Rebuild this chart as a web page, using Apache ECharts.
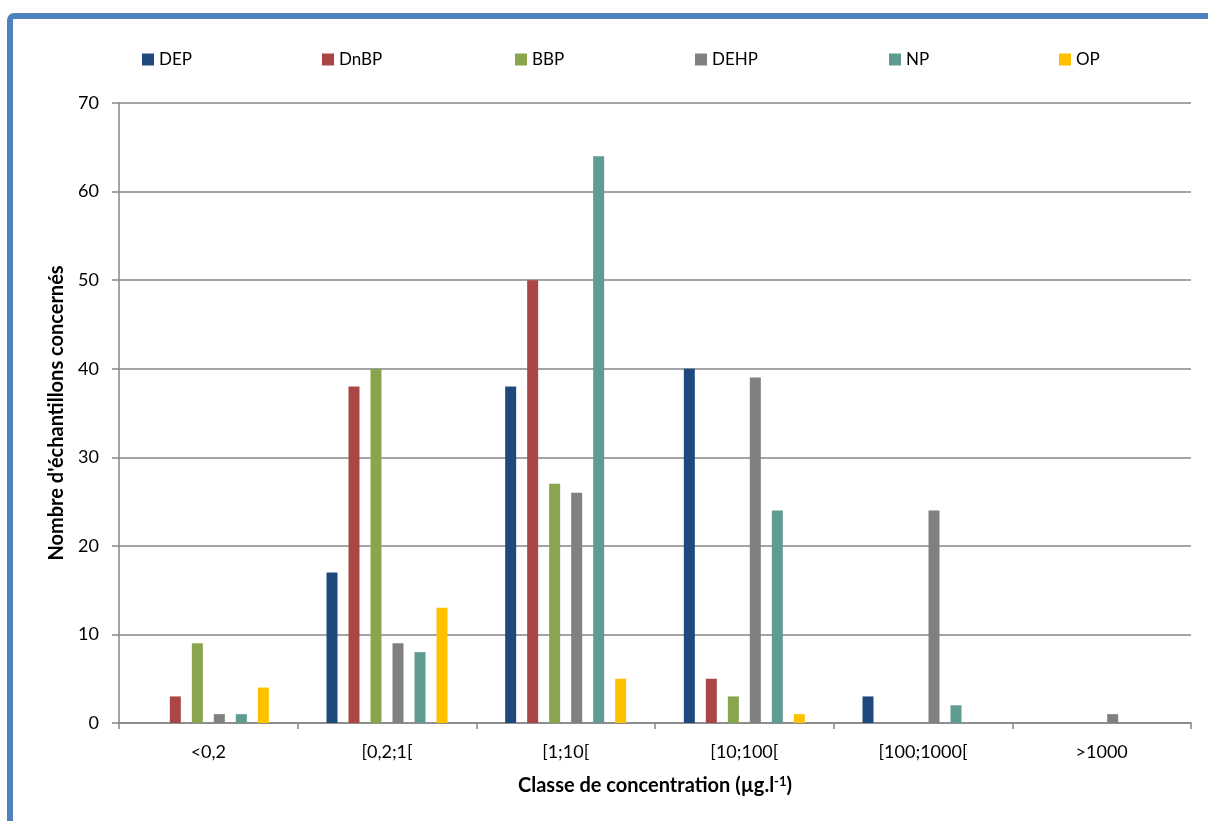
<!DOCTYPE html>
<html><head><meta charset="utf-8">
<script src="https://cdn.jsdelivr.net/npm/echarts@6/dist/echarts.min.js"></script>
<style>html,body{margin:0;padding:0;background:#fff;}#c{width:1208px;height:821px;}</style>
</head><body><div id="c"></div>
<script>
const categories = ['<0,2', '[0,2;1[', '[1;10[', '[10;100[', '[100;1000[', '>1000'];
const seriesNames = ['DEP', 'DnBP', 'BBP', 'DEHP', 'NP', 'OP'];
const DEP  = [0, 17, 38, 40, 3, 0];
const DnBP = [3, 38, 50, 5, 0, 0];
const BBP  = [9, 40, 27, 3, 0, 0];
const DEHP = [1, 9, 26, 39, 24, 1];
const NP   = [1, 8, 64, 24, 2, 0];
const OP   = [4, 13, 5, 1, 0, 0];
const yTicks = [0, 10, 20, 30, 40, 50, 60, 70];

const values = [DEP, DnBP, BBP, DEHP, NP, OP];
const colors = ['#1F497D', '#AA4643', '#89A54E', '#808080', '#5F9B90', '#FFC000'];
const legendLeft = [142, 322, 515, 695, 889, 1059];
const font = 'Lato, "Open Sans", "Noto Sans", sans-serif';

const chart = echarts.init(document.getElementById('c'), null, {renderer: 'canvas'});
chart.setOption({
  backgroundColor: '#fff',
  animation: false,
  graphic: [{
    type: 'rect', z: 100, silent: true,
    shape: {x: 10, y: 16, width: 1230, height: 840, r: 4},
    style: {fill: 'none', stroke: '#4F81BD', lineWidth: 6}
  }],
  legend: seriesNames.map((n, i) => ({
    data: [n], left: legendLeft[i], top: 51, itemWidth: 12, itemHeight: 12, itemGap: 4,
    icon: 'rect', textStyle: {fontFamily: font, fontSize: 17, color: '#000'}, padding: 0
  })),
  grid: {left: 119, right: 17, top: 103, bottom: 98, containLabel: false},
  xAxis: {
    type: 'category', data: categories,
    name: '{a|Classe de concentration (µg.l}{s|-1}{a|)}', nameLocation: 'middle', nameGap: 52,
    nameTextStyle: {fontFamily: font, fontSize: 20, fontWeight: 'bold', color: '#000',
      rich: {
        a: {fontFamily: font, fontSize: 20, fontWeight: 'bold', color: '#000'},
        s: {fontFamily: font, fontSize: 13, fontWeight: 'bold', color: '#000', verticalAlign: 'top', padding: [0, 0, 8, 0]}
      }},
    axisLine: {lineStyle: {color: '#868686', width: 1.5}},
    axisTick: {show: true, length: 6, lineStyle: {color: '#868686', width: 1.5}},
    axisLabel: {fontFamily: font, fontSize: 18, color: '#000', margin: 20}
  },
  yAxis: {
    type: 'value', min: 0, max: 70, interval: 10,
    name: "Nombre d'échantillons concernés", nameLocation: 'middle', nameGap: 52, nameRotate: 90,
    nameTextStyle: {fontFamily: font, fontSize: 20, fontWeight: 'bold', color: '#000'},
    axisLine: {show: true, lineStyle: {color: '#868686', width: 1.5}},
    axisTick: {show: true, length: 7, lineStyle: {color: '#868686', width: 1.5}},
    axisLabel: {fontFamily: font, fontSize: 18, color: '#000', margin: 20,
      formatter: v => yTicks.includes(v) ? String(v) : ''},
    splitLine: {show: true, lineStyle: {color: '#868686', width: 1.5}}
  },
  series: seriesNames.map((n, i) => ({
    name: n, type: 'bar', data: values[i], barWidth: 11, barGap: '100%',
    itemStyle: {color: colors[i]}
  }))
});
</script></body></html>
